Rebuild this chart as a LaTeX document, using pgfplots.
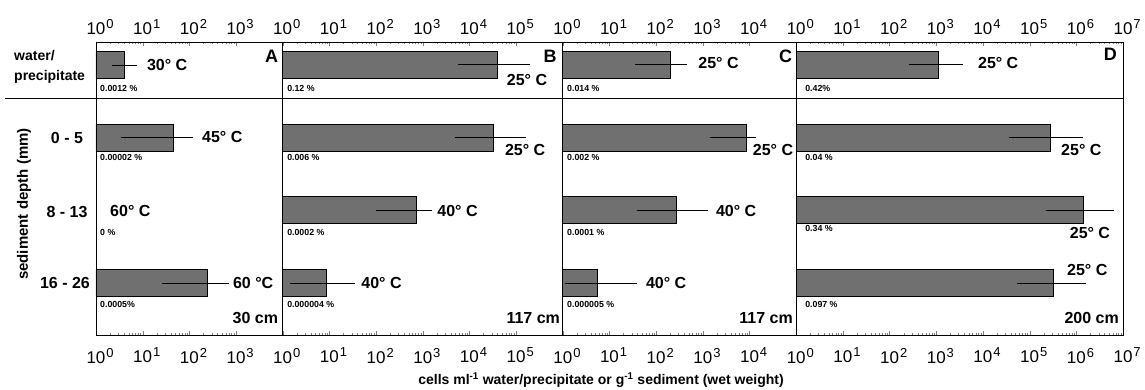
\documentclass[border=0pt]{standalone}
\usepackage{fontspec}
\setmainfont{Liberation Sans}
\setsansfont{Liberation Sans}
\usepackage{pgfplots}
\pgfplotsset{compat=1.18}

\newcommand{\tl}[1]{10\rlap{\hspace{1pt}\raisebox{6pt}{\fontsize{13}{13}\selectfont #1}}}
\newcommand{\fT}{\fontsize{16}{16}\selectfont\bfseries}
\newcommand{\fP}{\fontsize{8.8}{8.8}\selectfont\bfseries}
\newcommand{\fL}{\fontsize{18}{18}\selectfont\bfseries}
\newcommand{\fR}{\fontsize{16}{16}\selectfont\bfseries}
\newcommand{\fK}{\fontsize{17}{17}\selectfont}

\begin{document}
\begin{tikzpicture}
% ---------------- Panel A ----------------
\begin{axis}[xmode=log, scale only axis, height=293pt, ymin=-0.715, ymax=3.315,
  ytick=\empty, clip=false, axis line style={line width=0.9pt},
  xtick pos=both, xticklabel pos=lower,
  major tick length=4.5pt, minor tick length=2.5pt,
  xticklabel style={font=\fK, yshift=-9.5pt},
  anchor=south west, at={(0pt,0pt)}, width=186.7pt, xmin=1, xmax=1e4,
  xtick={1,10,100,1000}, xticklabels={\tl{0},\tl{1},\tl{2},\tl{3}}]
  \addplot[xbar, bar width=27pt, bar shift=0pt, draw=black, line width=0.8pt, fill=black!56] coordinates {(4,3) (45,2) (240,0)};
  \addplot[black, line width=0.8pt, mark=none] coordinates {(2.2,3) (7.6,3)};
  \addplot[black, line width=0.8pt, mark=none] coordinates {(3.5,2) (120,2)};
  \addplot[black, line width=0.8pt, mark=none] coordinates {(26,0) (710,0)};
  \node[anchor=west, inner sep=0pt, font=\fT] at (axis cs:12.3,3) {30° C};
  \node[anchor=west, inner sep=0pt, font=\fP] at (axis cs:1.22,2.68) {0.0012 \%};
  \node[anchor=west, inner sep=0pt, font=\fT] at (axis cs:186,2.01) {45° C};
  \node[anchor=west, inner sep=0pt, font=\fP] at (axis cs:1.22,1.73) {0.00002 \%};
  \node[anchor=west, inner sep=0pt, font=\fT] at (axis cs:2,0.99) {60° C};
  \node[anchor=west, inner sep=0pt, font=\fP] at (axis cs:1.22,0.70) {0 \%};
  \node[anchor=west, inner sep=0pt, font=\fT] at (axis cs:855,0) {60 °C};
  \node[anchor=west, inner sep=0pt, font=\fP] at (axis cs:1.22,-0.30) {0.0005\%};
  \node[anchor=north east, inner sep=0pt, font=\fL, xshift=-4.5pt, yshift=-8pt] at (rel axis cs:1,1) {A};
  \node[anchor=east, inner sep=0pt, font=\fT, xshift=-4.5pt] at (rel axis cs:1,0.058) {30 cm};
  \node[anchor=west, align=left, inner sep=0pt, font=\fontsize{14}{20}\selectfont\bfseries, xshift=-82pt] at (axis cs:1,2.97) {water/\\precipitate};
  \node[inner sep=0pt, font=\fR, xshift=-29pt] at (axis cs:1,2) {0 - 5};
  \node[inner sep=0pt, font=\fR, xshift=-29pt] at (axis cs:1,0.98) {8 - 13};
  \node[inner sep=0pt, font=\fR, xshift=-31pt] at (axis cs:1,0) {16 - 26};
  \node[rotate=90, yshift=72pt, inner sep=0pt, font=\fontsize{15}{15}\selectfont\bfseries] at (rel axis cs:0,0.447) {sediment depth (mm)};
  \node[inner sep=0pt, font=\fontsize{14}{14}\selectfont\bfseries, xshift=505pt, yshift=-45pt] at (rel axis cs:0,0) {cells ml\textsuperscript{-1} water/precipitate or g\textsuperscript{-1} sediment (wet weight)};
  \draw[line width=0.9pt] (rel axis cs:-0.487,0.807) -- (rel axis cs:5.50,0.807);
\end{axis}
\begin{axis}[xmode=log, scale only axis, height=293pt, ymin=-0.715, ymax=3.315,
  ytick=\empty, axis line style={draw=none},
  xticklabel pos=upper, major tick length=0pt, minor tick length=0pt,
  xticklabel style={font=\fK, yshift=3.5pt},
  anchor=south west, at={(0pt,0pt)}, width=186.7pt, xmin=1, xmax=1e4,
  xtick={1,10,100,1000}, xticklabels={\tl{0},\tl{1},\tl{2},\tl{3}}]
  \addplot[draw=none, mark=none] coordinates {(1,0) (2,0)};
\end{axis}
% ---------------- Panel B ----------------
\begin{axis}[xmode=log, scale only axis, height=293pt, ymin=-0.715, ymax=3.315,
  ytick=\empty, clip=false, axis line style={line width=0.9pt},
  xtick pos=both, xticklabel pos=lower,
  major tick length=4.5pt, minor tick length=2.5pt,
  xticklabel style={font=\fK, yshift=-9.5pt},
  anchor=south west, at={(186.7pt,0pt)}, width=280.1pt, xmin=1, xmax=1e6,
  xtick={1,10,100,1000,1e4,1e5}, xticklabels={\tl{0},\tl{1},\tl{2},\tl{3},\tl{4},\tl{5}}]
  \addplot[xbar, bar width=27pt, bar shift=0pt, draw=black, line width=0.8pt, fill=black!56] coordinates {(40000,3) (32000,2) (740,1) (8.7,0)};
  \addplot[black, line width=0.8pt, mark=none] coordinates {(5600,3) (195000,3)};
  \addplot[black, line width=0.8pt, mark=none] coordinates {(4800,2) (160000,2)};
  \addplot[black, line width=0.8pt, mark=none] coordinates {(100,1) (1600,1)};
  \addplot[black, line width=0.8pt, mark=none] coordinates {(1.4,0) (35,0)};
  \node[anchor=west, inner sep=0pt, font=\fT] at (axis cs:63000,2.79) {25° C};
  \node[anchor=west, inner sep=0pt, font=\fP] at (axis cs:1.24,2.68) {0.12 \%};
  \node[anchor=west, inner sep=0pt, font=\fT] at (axis cs:57500,1.83) {25° C};
  \node[anchor=west, inner sep=0pt, font=\fP] at (axis cs:1.24,1.73) {0.006 \%};
  \node[anchor=west, inner sep=0pt, font=\fT] at (axis cs:2040,0.99) {40° C};
  \node[anchor=west, inner sep=0pt, font=\fP] at (axis cs:1.24,0.69) {0.0002 \%};
  \node[anchor=west, inner sep=0pt, font=\fT] at (axis cs:48,0) {40° C};
  \node[anchor=west, inner sep=0pt, font=\fP] at (axis cs:1.24,-0.30) {0.000004 \%};
  \node[anchor=north east, inner sep=0pt, font=\fL, xshift=-6pt, yshift=-8pt] at (rel axis cs:1,1) {B};
  \node[anchor=east, inner sep=0pt, font=\fT, xshift=-2.7pt] at (rel axis cs:1,0.058) {117 cm};
\end{axis}
\begin{axis}[xmode=log, scale only axis, height=293pt, ymin=-0.715, ymax=3.315,
  ytick=\empty, axis line style={draw=none},
  xticklabel pos=upper, major tick length=0pt, minor tick length=0pt,
  xticklabel style={font=\fK, yshift=3.5pt},
  anchor=south west, at={(186.7pt,0pt)}, width=280.1pt, xmin=1, xmax=1e6,
  xtick={1,10,100,1000,1e4,1e5}, xticklabels={\tl{0},\tl{1},\tl{2},\tl{3},\tl{4},\tl{5}}]
  \addplot[draw=none, mark=none] coordinates {(1,0) (2,0)};
\end{axis}
% ---------------- Panel C ----------------
\begin{axis}[xmode=log, scale only axis, height=293pt, ymin=-0.715, ymax=3.315,
  ytick=\empty, clip=false, axis line style={line width=0.9pt},
  xtick pos=both, xticklabel pos=lower,
  major tick length=4.5pt, minor tick length=2.5pt,
  xticklabel style={font=\fK, yshift=-9.5pt},
  anchor=south west, at={(466.8pt,0pt)}, width=233.4pt, xmin=1, xmax=1e5,
  xtick={1,10,100,1000,1e4}, xticklabels={\tl{0},\tl{1},\tl{2},\tl{3},\tl{4}}]
  \addplot[xbar, bar width=27pt, bar shift=0pt, draw=black, line width=0.8pt, fill=black!56] coordinates {(205,3) (8700,2) (275,1) (5.4,0)};
  \addplot[black, line width=0.8pt, mark=none] coordinates {(35,3) (460,3)};
  \addplot[black, line width=0.8pt, mark=none] coordinates {(1400,2) (14000,2)};
  \addplot[black, line width=0.8pt, mark=none] coordinates {(38,1) (1260,1)};
  \addplot[black, line width=0.8pt, mark=none] coordinates {(1.1,0) (38,0)};
  \node[anchor=west, inner sep=0pt, font=\fT] at (axis cs:795,3.03) {25° C};
  \node[anchor=west, inner sep=0pt, font=\fP] at (axis cs:1.23,2.68) {0.014 \%};
  \node[anchor=west, inner sep=0pt, font=\fT] at (axis cs:11700,1.83) {25° C};
  \node[anchor=west, inner sep=0pt, font=\fP] at (axis cs:1.23,1.73) {0.002 \%};
  \node[anchor=west, inner sep=0pt, font=\fT] at (axis cs:1900,0.99) {40° C};
  \node[anchor=west, inner sep=0pt, font=\fP] at (axis cs:1.23,0.69) {0.0001 \%};
  \node[anchor=west, inner sep=0pt, font=\fT] at (axis cs:60,0) {40° C};
  \node[anchor=west, inner sep=0pt, font=\fP] at (axis cs:1.23,-0.30) {0.000005 \%};
  \node[anchor=north east, inner sep=0pt, font=\fL, xshift=-4pt, yshift=-8pt] at (rel axis cs:1,1) {C};
  \node[anchor=east, inner sep=0pt, font=\fT, xshift=-3.2pt] at (rel axis cs:1,0.058) {117 cm};
\end{axis}
\begin{axis}[xmode=log, scale only axis, height=293pt, ymin=-0.715, ymax=3.315,
  ytick=\empty, axis line style={draw=none},
  xticklabel pos=upper, major tick length=0pt, minor tick length=0pt,
  xticklabel style={font=\fK, yshift=3.5pt},
  anchor=south west, at={(466.8pt,0pt)}, width=233.4pt, xmin=1, xmax=1e5,
  xtick={1,10,100,1000,1e4}, xticklabels={\tl{0},\tl{1},\tl{2},\tl{3},\tl{4}}]
  \addplot[draw=none, mark=none] coordinates {(1,0) (2,0)};
\end{axis}
% ---------------- Panel D ----------------
\begin{axis}[xmode=log, scale only axis, height=293pt, ymin=-0.715, ymax=3.315,
  ytick=\empty, clip=false, axis line style={line width=0.9pt},
  xtick pos=both, xticklabel pos=lower,
  major tick length=4.5pt, minor tick length=2.5pt,
  xticklabel style={font=\fK, yshift=-9.5pt},
  anchor=south west, at={(700.2pt,0pt)}, width=326.8pt, xmin=1, xmax=1e7,
  xtick={1,10,100,1000,1e4,1e5,1e6,1e7}, xticklabels={\tl{0},\tl{1},\tl{2},\tl{3},\tl{4},\tl{5},\tl{6},\tl{7}}]
  \addplot[xbar, bar width=27pt, bar shift=0pt, draw=black, line width=0.8pt, fill=black!56] coordinates {(1100,3) (275000,2) (1400000,1) (330000,0)};
  \addplot[black, line width=0.8pt, mark=none] coordinates {(260,3) (3800,3)};
  \addplot[black, line width=0.8pt, mark=none] coordinates {(36000,2) (1400000,2)};
  \addplot[black, line width=0.8pt, mark=none] coordinates {(220000,1) (6500000,1)};
  \addplot[black, line width=0.8pt, mark=none] coordinates {(54000,0) (1600000,0)};
  \node[anchor=west, inner sep=0pt, font=\fT] at (axis cs:7800,3.03) {25° C};
  \node[anchor=west, inner sep=0pt, font=\fP] at (axis cs:1.55,2.68) {0.42\%};
  \node[anchor=west, inner sep=0pt, font=\fT] at (axis cs:470000,1.83) {25° C};
  \node[anchor=west, inner sep=0pt, font=\fP] at (axis cs:1.55,1.73) {0.04 \%};
  \node[anchor=west, inner sep=0pt, font=\fT] at (axis cs:720000,0.69) {25° C};
  \node[anchor=west, inner sep=0pt, font=\fP] at (axis cs:1.55,0.755) {0.34 \%};
  \node[anchor=west, inner sep=0pt, font=\fT] at (axis cs:630000,0.18) {25° C};
  \node[anchor=west, inner sep=0pt, font=\fP] at (axis cs:1.55,-0.30) {0.097 \%};
  \node[anchor=north east, inner sep=0pt, font=\fL, xshift=-6pt, yshift=-6pt] at (rel axis cs:1,1) {D};
  \node[anchor=east, inner sep=0pt, font=\fT, xshift=-4pt] at (rel axis cs:1,0.058) {200 cm};
\end{axis}
\begin{axis}[xmode=log, scale only axis, height=293pt, ymin=-0.715, ymax=3.315,
  ytick=\empty, axis line style={draw=none},
  xticklabel pos=upper, major tick length=0pt, minor tick length=0pt,
  xticklabel style={font=\fK, yshift=3.5pt},
  anchor=south west, at={(700.2pt,0pt)}, width=326.8pt, xmin=1, xmax=1e7,
  xtick={1,10,100,1000,1e4,1e5,1e6,1e7}, xticklabels={\tl{0},\tl{1},\tl{2},\tl{3},\tl{4},\tl{5},\tl{6},\tl{7}}]
  \addplot[draw=none, mark=none] coordinates {(1,0) (2,0)};
\end{axis}
\pgfresetboundingbox
\useasboundingbox (-96pt,-54pt) rectangle (1049pt,335pt);
\end{tikzpicture}
\end{document}
